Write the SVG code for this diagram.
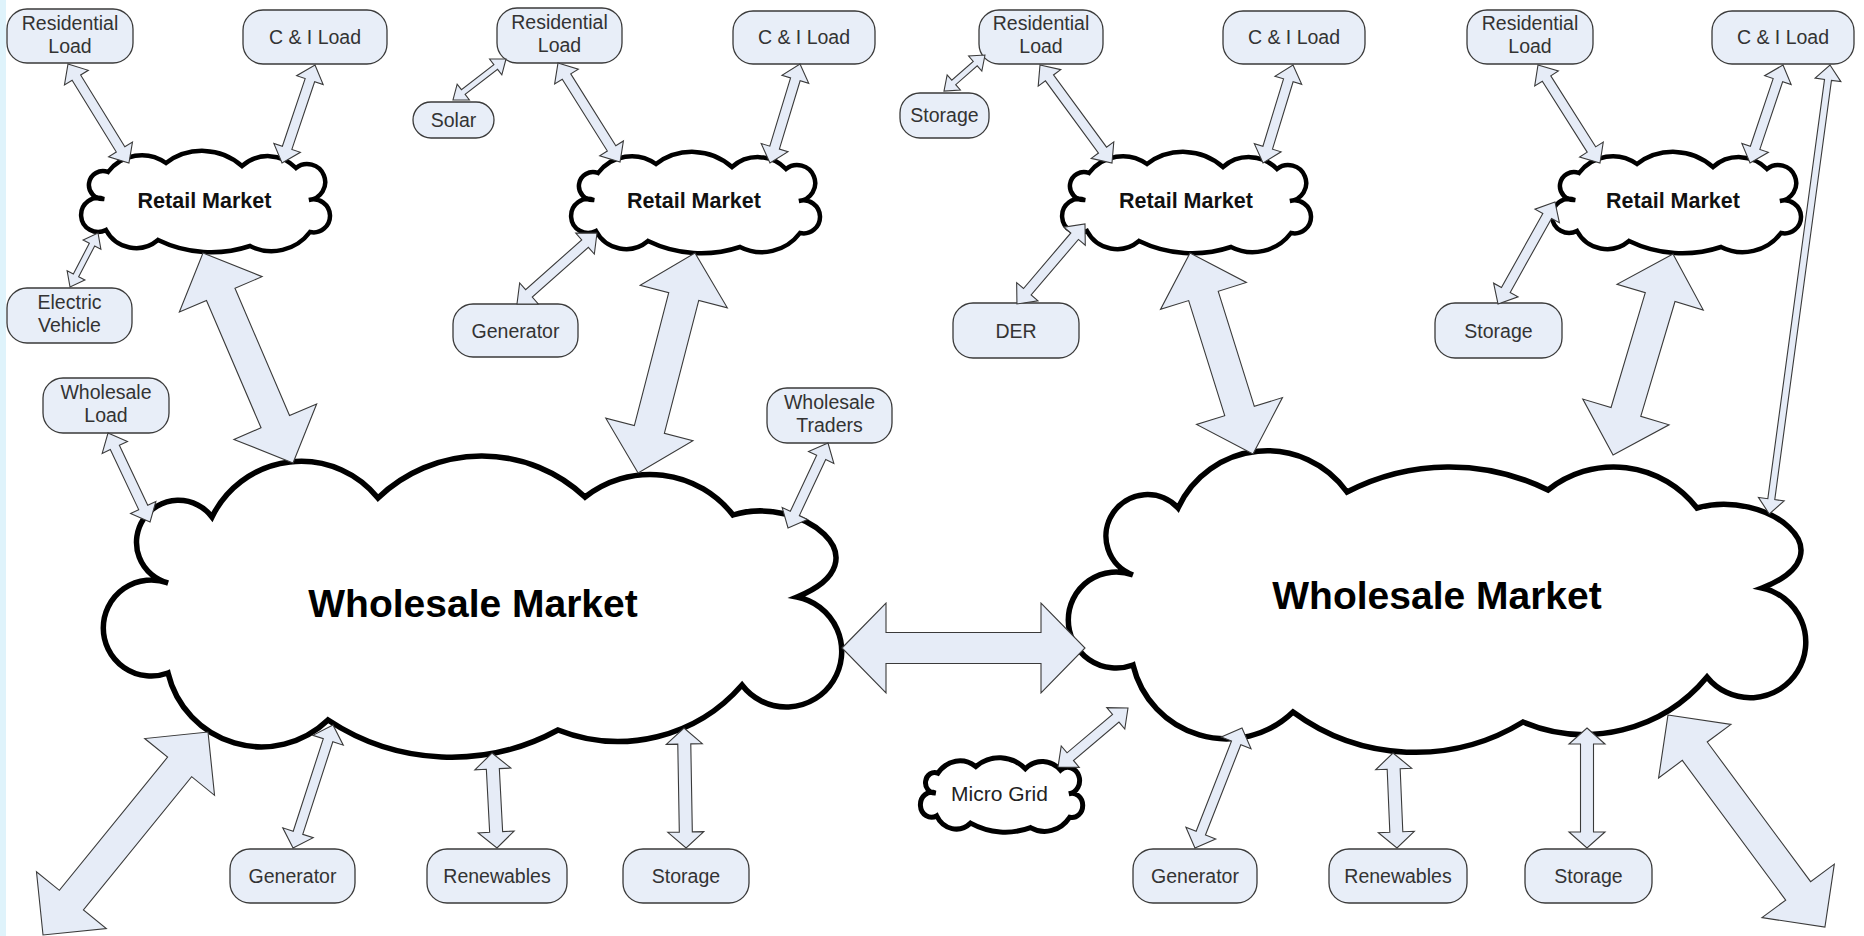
<svg xmlns="http://www.w3.org/2000/svg" width="1864" height="936" viewBox="0 0 1864 936">
<style>
.box{fill:#E8EEF8;stroke:#3a3a3a;stroke-width:1.3}
.lbl{font-family:"Liberation Sans",Arial,sans-serif;font-size:19.5px;fill:#333;text-anchor:middle}
.cloud{fill:#fff;stroke:#000;stroke-width:5.5;stroke-linejoin:miter}
.rmc{fill:#fff;stroke:#000;stroke-width:4.5;stroke-linejoin:miter}
.big{font-family:"Liberation Sans",Arial,sans-serif;font-weight:bold;font-size:39px;fill:#000;text-anchor:middle}
.rtl{font-family:"Liberation Sans",Arial,sans-serif;font-weight:bold;font-size:21.5px;fill:#111;text-anchor:middle}
.arr{fill:#E6ECF7;stroke:#3a3a3a;stroke-width:1.1;stroke-linejoin:miter}
</style>
<defs>
<path id="rmshape" d="M22,49 A14,14 0 1,1 26,22 A42,42 0 0,1 84,13 A60,60 0 0,1 160,16 A39,39 0 0,1 214,18 A18,18 0 1,1 227,50 A16.5,16.5 0 1,1 228,82 A48,48 0 0,1 168,96 A122,122 0 0,1 76,90 A34,34 0 0,1 24,80 A17,17 0 1,1 22,49 Z"/>
</defs>
<rect x="0" y="0" width="1864" height="936" fill="#fff"/>
<rect x="0" y="0" width="6" height="936" fill="#dff3fb"/>

<g id="wholesale-market-1">
<path class="cloud" d="M212,517 A99,99 0 0,1 378,498 A150,150 0 0,1 585,497 A105,105 0 0,1 733,515 C800,494 888,560 797,597 A55.5,55.5 0 1,1 742,685 A164,164 0 0,1 558,730 A223,223 0 0,1 328,720 A96,96 0 0,1 168,673 A48,48 0 1,1 168,583 A42,42 0 1,1 212,517 Z"/>
<text class="big" x="473" y="617">Wholesale Market</text>
</g>
<g id="wholesale-market-2">
<path class="cloud" d="M1178,508 A98,98 0 0,1 1347,492 A222,222 0 0,1 1548,490 A105,105 0 0,1 1697,508 C1765,488 1853,553 1762,588 A55.5,55.5 0 1,1 1707,677 A159,159 0 0,1 1523,722 A206,206 0 0,1 1293,712 A96,96 0 0,1 1133,665 A48,48 0 1,1 1133,575 A41.5,41.5 0 1,1 1178,508 Z"/>
<text class="big" x="1437" y="609">Wholesale Market</text>
</g>

<g id="retail-market-1"><use href="#rmshape" class="rmc" x="82" y="150"/><text class="rtl" x="204.5" y="208">Retail Market</text></g>
<g id="retail-market-2"><use href="#rmshape" class="rmc" x="572" y="151"/><text class="rtl" x="694" y="208">Retail Market</text></g>
<g id="retail-market-3"><use href="#rmshape" class="rmc" x="1063" y="151"/><text class="rtl" x="1186" y="208">Retail Market</text></g>
<g id="retail-market-4"><use href="#rmshape" class="rmc" x="1553" y="151"/><text class="rtl" x="1673" y="208">Retail Market</text></g>

<g id="micro-grid">
<path transform="translate(921,757) scale(0.652,0.735)" vector-effect="non-scaling-stroke" fill="#fff" stroke="#000" stroke-width="5" d="M22,49 A14,14 0 1,1 26,22 A42,42 0 0,1 84,13 A60,60 0 0,1 160,16 A39,39 0 0,1 214,18 A18,18 0 1,1 227,50 A16.5,16.5 0 1,1 228,82 A48,48 0 0,1 168,96 A122,122 0 0,1 76,90 A34,34 0 0,1 24,80 A17,17 0 1,1 22,49 Z"/>
<text class="lbl" x="999.5" y="801" style="font-size:21px;fill:#222">Micro Grid</text>
</g>

<g id="residential-load-1"><rect class="box" x="7" y="9" width="126" height="54" rx="20"/><text class="lbl" x="70" y="30">Residential</text><text class="lbl" x="70" y="53">Load</text></g>
<g id="ci-load-1"><rect class="box" x="243" y="10" width="144" height="54" rx="20"/><text class="lbl" x="315" y="44">C &amp; I Load</text></g>
<g id="electric-vehicle"><rect class="box" x="7" y="288" width="125" height="55" rx="20"/><text class="lbl" x="69.5" y="309">Electric</text><text class="lbl" x="69.5" y="332">Vehicle</text></g>
<g id="wholesale-load"><rect class="box" x="43" y="378" width="126" height="55" rx="20"/><text class="lbl" x="106" y="399">Wholesale</text><text class="lbl" x="106" y="422">Load</text></g>
<g id="solar"><rect class="box" x="413" y="102" width="81" height="36" rx="18"/><text class="lbl" x="453.5" y="127">Solar</text></g>
<g id="residential-load-2"><rect class="box" x="497" y="8" width="125" height="55" rx="20"/><text class="lbl" x="559.5" y="29">Residential</text><text class="lbl" x="559.5" y="52">Load</text></g>
<g id="ci-load-2"><rect class="box" x="733" y="11" width="142" height="53" rx="20"/><text class="lbl" x="804" y="44">C &amp; I Load</text></g>
<g id="generator-top"><rect class="box" x="453" y="304" width="125" height="53" rx="20"/><text class="lbl" x="515.5" y="337.5">Generator</text></g>
<g id="wholesale-traders"><rect class="box" x="767" y="388" width="125" height="55" rx="20"/><text class="lbl" x="829.5" y="409">Wholesale</text><text class="lbl" x="829.5" y="432">Traders</text></g>
<g id="storage-top-3"><rect class="box" x="900" y="93" width="89" height="45" rx="20"/><text class="lbl" x="944.5" y="122">Storage</text></g>
<g id="residential-load-3"><rect class="box" x="979" y="10" width="124" height="54" rx="20"/><text class="lbl" x="1041" y="30">Residential</text><text class="lbl" x="1041" y="53">Load</text></g>
<g id="ci-load-3"><rect class="box" x="1223" y="11" width="142" height="53" rx="20"/><text class="lbl" x="1294" y="44">C &amp; I Load</text></g>
<g id="der"><rect class="box" x="953" y="303" width="126" height="55" rx="20"/><text class="lbl" x="1016" y="337.5">DER</text></g>
<g id="residential-load-4"><rect class="box" x="1467" y="10" width="126" height="54" rx="20"/><text class="lbl" x="1530" y="30">Residential</text><text class="lbl" x="1530" y="53">Load</text></g>
<g id="ci-load-4"><rect class="box" x="1712" y="11" width="142" height="53" rx="20"/><text class="lbl" x="1783" y="44">C &amp; I Load</text></g>
<g id="storage-top-4"><rect class="box" x="1435" y="303" width="127" height="55" rx="20"/><text class="lbl" x="1498.5" y="337.5">Storage</text></g>
<g id="generator-1"><rect class="box" x="230" y="849" width="125" height="54" rx="20"/><text class="lbl" x="292.5" y="883">Generator</text></g>
<g id="renewables-1"><rect class="box" x="427" y="849" width="140" height="54" rx="20"/><text class="lbl" x="497" y="883">Renewables</text></g>
<g id="storage-1"><rect class="box" x="623" y="849" width="126" height="54" rx="20"/><text class="lbl" x="686" y="883">Storage</text></g>
<g id="generator-2"><rect class="box" x="1133" y="849" width="124" height="54" rx="20"/><text class="lbl" x="1195" y="883">Generator</text></g>
<g id="renewables-2"><rect class="box" x="1329" y="849" width="138" height="54" rx="20"/><text class="lbl" x="1398" y="883">Renewables</text></g>
<g id="storage-2"><rect class="box" x="1525" y="849" width="127" height="54" rx="20"/><text class="lbl" x="1588.5" y="883">Storage</text></g>

<g id="connectors">
<path class="arr" transform="translate(203,253) rotate(66.8)" d="M0,0L45,-45L45,-15.5L183.5,-15.5L183.5,-45L228.5,0L183.5,45L183.5,15.5L45,15.5L45,45Z"/>
<path class="arr" transform="translate(695,253) rotate(104.5)" d="M0,0L45,-45L45,-15.5L182.3,-15.5L182.3,-45L227.3,0L182.3,45L182.3,15.5L45,15.5L45,45Z"/>
<path class="arr" transform="translate(1190,253) rotate(72.6)" d="M0,0L45,-45L45,-15.5L165.6,-15.5L165.6,-45L210.6,0L165.6,45L165.6,15.5L45,15.5L45,45Z"/>
<path class="arr" transform="translate(1673,254) rotate(106.6)" d="M0,0L45,-45L45,-15.5L164.8,-15.5L164.8,-45L209.8,0L164.8,45L164.8,15.5L45,15.5L45,45Z"/>
<path class="arr" transform="translate(842,648)" d="M0,0L44,-45L44,-15.5L199,-15.5L199,-45L243,0L199,45L199,15.5L44,15.5L44,45Z"/>
<path class="arr" transform="translate(208,732) rotate(129.1)" d="M0,0L45,-45L45,-15.5L216.6,-15.5L216.6,-45L261.6,0L216.6,45L216.6,15.5L45,15.5L45,45Z"/>
<path class="arr" transform="translate(1668,715) rotate(53.5)" d="M0,0L45,-45L45,-15.5L218.8,-15.5L218.8,-45L263.8,0L218.8,45L218.8,15.5L45,15.5L45,45Z"/>
<path class="arr" transform="translate(68,64) rotate(58.4)" d="M0,0L16,-14L16,-5L100.3,-5L100.3,-14L116.3,0L100.3,14L100.3,5L16,5L16,14Z"/>
<path class="arr" transform="translate(315,65) rotate(108.6)" d="M0,0L16,-14L16,-5L87.4,-5L87.4,-14L103.4,0L87.4,14L87.4,5L16,5L16,14Z"/>
<path class="arr" transform="translate(558,63) rotate(57.9)" d="M0,0L16,-14L16,-5L100.8,-5L100.8,-14L116.8,0L100.8,14L100.8,5L16,5L16,14Z"/>
<path class="arr" transform="translate(800,64) rotate(106.9)" d="M0,0L16,-14L16,-5L87.4,-5L87.4,-14L103.4,0L87.4,14L87.4,5L16,5L16,14Z"/>
<path class="arr" transform="translate(597,233) rotate(138.4)" d="M0,0L16,-14L16,-5L91,-5L91,-14L107,0L91,14L91,5L16,5L16,14Z"/>
<path class="arr" transform="translate(828,443) rotate(115.2)" d="M0,0L16,-14L16,-5L77.9,-5L77.9,-14L93.9,0L77.9,14L77.9,5L16,5L16,14Z"/>
<path class="arr" transform="translate(1040,65) rotate(53.7)" d="M0,0L16,-14L16,-5L105.6,-5L105.6,-14L121.6,0L105.6,14L105.6,5L16,5L16,14Z"/>
<path class="arr" transform="translate(1293,65) rotate(107)" d="M0,0L16,-14L16,-5L86.5,-5L86.5,-14L102.5,0L86.5,14L86.5,5L16,5L16,14Z"/>
<path class="arr" transform="translate(1085,224) rotate(130.4)" d="M0,0L16,-14L16,-5L89,-5L89,-14L105,0L89,14L89,5L16,5L16,14Z"/>
<path class="arr" transform="translate(1538,65) rotate(57.7)" d="M0,0L16,-14L16,-5L100,-5L100,-14L116,0L100,14L100,5L16,5L16,14Z"/>
<path class="arr" transform="translate(1783,65) rotate(108.6)" d="M0,0L16,-14L16,-5L87.4,-5L87.4,-14L103.4,0L87.4,14L87.4,5L16,5L16,14Z"/>
<path class="arr" transform="translate(1555,202) rotate(119.2)" d="M0,0L16,-14L16,-5L100.8,-5L100.8,-14L116.8,0L100.8,14L100.8,5L16,5L16,14Z"/>
<path class="arr" transform="translate(108,433) rotate(64.7)" d="M0,0L16,-14L16,-5L82.4,-5L82.4,-14L98.4,0L82.4,14L82.4,5L16,5L16,14Z"/>
<path class="arr" transform="translate(1128,708) rotate(139.9)" d="M0,0L16,-14L16,-5L75.5,-5L75.5,-14L91.5,0L75.5,14L75.5,5L16,5L16,14Z"/>
<path class="arr" transform="translate(98,233) rotate(117.4)" d="M0,0L13,-10L13,-3L47.8,-3L47.8,-10L60.8,0L47.8,10L47.8,3L13,3L13,10Z"/>
<path class="arr" transform="translate(506,59) rotate(142.3)" d="M0,0L13,-10L13,-3L54,-3L54,-10L67,0L54,10L54,3L13,3L13,10Z"/>
<path class="arr" transform="translate(985,55) rotate(138.7)" d="M0,0L13,-10L13,-3L41.6,-3L41.6,-10L54.6,0L41.6,10L41.6,3L13,3L13,10Z"/>
<path class="arr" transform="translate(1830,65) rotate(97.7)" d="M0,0L15,-13L15,-3.5L438.1,-3.5L438.1,-13L453.1,0L438.1,13L438.1,3.5L15,3.5L15,13Z"/>
<path class="arr" transform="translate(333,725) rotate(108)" d="M0,0L16,-16L16,-5L113.3,-5L113.3,-16L129.3,0L113.3,16L113.3,5L16,5L16,16Z"/>
<path class="arr" transform="translate(492,753) rotate(87)" d="M0,0L16,-18L16,-6.5L79.1,-6.5L79.1,-18L95.1,0L79.1,18L79.1,6.5L16,6.5L16,18Z"/>
<path class="arr" transform="translate(684,728) rotate(89)" d="M0,0L16,-18L16,-6.5L104,-6.5L104,-18L120,0L104,18L104,6.5L16,6.5L16,18Z"/>
<path class="arr" transform="translate(1242,728) rotate(111.4)" d="M0,0L16,-16L16,-5L112.9,-5L112.9,-16L128.9,0L112.9,16L112.9,5L16,5L16,16Z"/>
<path class="arr" transform="translate(1393,753) rotate(87.6)" d="M0,0L16,-18L16,-6.5L79.1,-6.5L79.1,-18L95.1,0L79.1,18L79.1,6.5L16,6.5L16,18Z"/>
<path class="arr" transform="translate(1587,728) rotate(90)" d="M0,0L16,-18L16,-6.5L104,-6.5L104,-18L120,0L104,18L104,6.5L16,6.5L16,18Z"/>
</g>
</svg>
